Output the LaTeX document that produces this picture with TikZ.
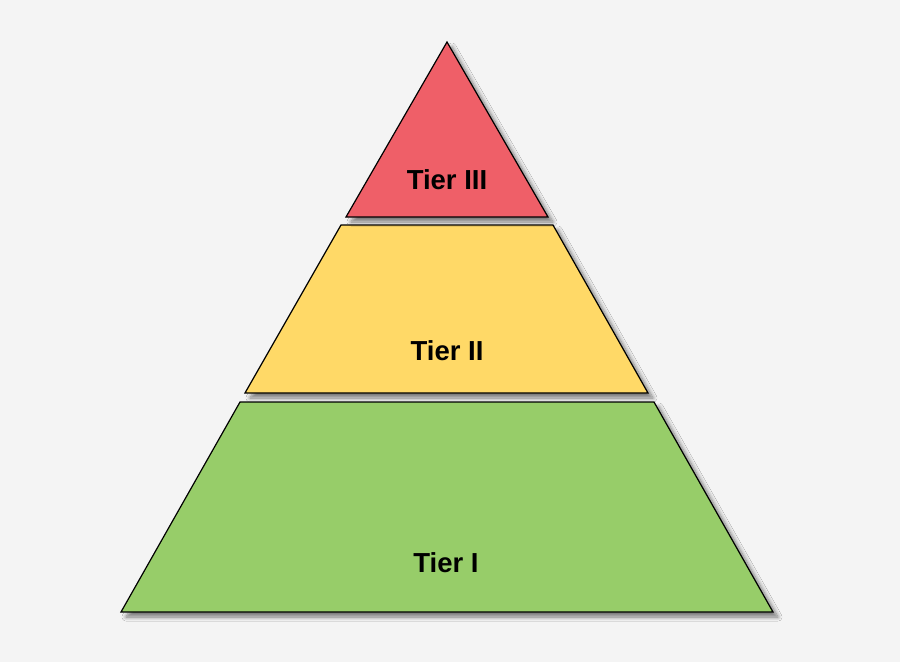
\documentclass[tikz,border=0pt]{standalone}
\usepackage{fontspec}
\setmainfont{Liberation Sans}
\usetikzlibrary{shadows.blur}
\definecolor{bgc}{HTML}{F4F4F4}
\definecolor{tierred}{HTML}{EF5F68}
\definecolor{tieryellow}{HTML}{FFD967}
\definecolor{tiergreen}{HTML}{97CD69}
\tikzset{
  tierpart/.style={draw=black, line width=1.2pt, line join=miter,
    blur shadow={shadow xshift=5pt, shadow yshift=-5pt, shadow blur steps=8, shadow opacity=50, shadow blur radius=4pt}},
  tierlabel/.style={font=\bfseries\fontsize{27.5}{30}\selectfont, text=black, inner sep=0pt}
}
\begin{document}
\begin{tikzpicture}[x=1pt,y=-1pt]
\fill[bgc] (0,0) rectangle (900,662);
\useasboundingbox (0,0) rectangle (900,662);
\draw[tierpart, fill=tiergreen] (240,402) -- (654,402) -- (773,612) -- (121,612) -- cycle;
\draw[tierpart, fill=tieryellow] (341,225) -- (553,225) -- (648,393) -- (245,393) -- cycle;
\draw[tierpart, fill=tierred] (447,42) -- (548,217) -- (346,217) -- cycle;
\node[tierlabel] (t3) at (447,180) {Tier III};
\node[tierlabel] (t2) at (447,351) {Tier II};
\node[tierlabel] (t1) at (446,563) {Tier I};
\end{tikzpicture}
\end{document}
